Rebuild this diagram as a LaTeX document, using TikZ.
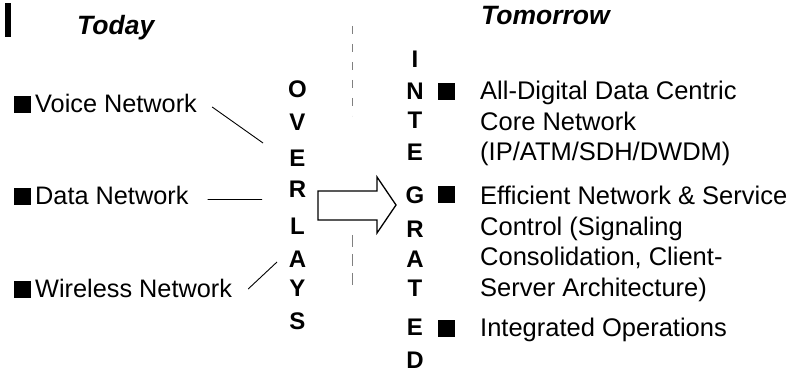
\documentclass[tikz,border=0pt]{standalone}
\usepackage{fontspec}
\setmainfont{Liberation Sans}

\begin{document}
\begin{tikzpicture}[x=1pt,y=-1pt,
  item/.style={anchor=base west,inner sep=0pt,font=\fontsize{25.3}{30}\selectfont},
  ritem/.style={anchor=base west,inner sep=0pt,align=left,font=\fontsize{25.5}{30.5}\selectfont},
  title/.style={anchor=base west,inner sep=0pt,font=\bfseries\itshape\fontsize{26.5}{30}\selectfont},
  lett/.style={anchor=base,inner sep=0pt,font=\bfseries\fontsize{24}{24}\selectfont},
  bul/.style={fill=black,inner sep=0pt,minimum size=17pt},
  link/.style={line width=.9pt}]
\useasboundingbox (0,0) rectangle (796,374);
\fill (5,3) rectangle (11,37);

\node[title] (today) at (77,35) {Today};
\node[title] (tomorrow) at (481,25) {Tomorrow};

% today
\node[bul] (bvoice) at (22,104.5) {};
\node[item] (voice) at (35,113) {Voice Network};
\node[bul] (bdata) at (22,196.5) {};
\node[item] (data) at (35,205) {Data Network};
\node[bul] (bwireless) at (22,289.5) {};
\node[item] (wireless) at (35,298) {Wireless Network};

% overlays
\node[lett] (o1) at (297.5,98) {O};
\node[lett] (o2) at (297.5,131) {V};
\node[lett] (o3) at (297.5,167) {E};
\node[lett] (o4) at (297.5,198) {R};
\node[lett] (o5) at (297.5,235) {L};
\node[lett] (o6) at (297.5,268) {A};
\node[lett] (o7) at (297.5,297) {Y};
\node[lett] (o8) at (297.5,330) {S};

\coordinate (ovV) at (263,143);
\coordinate (ovR) at (262,199.5);
\coordinate (ovA) at (277,262);
\draw[link] ([xshift=15pt,yshift=-3pt]voice.east) -- (ovV);
\draw[link] ([xshift=19pt,yshift=-3.5pt]data.east) -- (ovR);
\draw[link] ([xshift=16pt]wireless.east) -- (ovA);

% divider
\draw[gray,line width=.8pt,dash pattern=on 8pt off 10pt] (352.5,26) -- (352.5,116);
\draw[gray,line width=.8pt,dash pattern=on 12pt off 7pt] (352.5,235) -- (352.5,292);

% arrow
\draw[line width=1.3pt,line join=miter] (318,191) -- (377,191) -- (377,177) -- (396,205)
  -- (377,233) -- (377,220) -- (318,220) -- cycle;

% integrated
\node[lett] (i1) at (415,68) {I};
\node[lett] (i2) at (415,100) {N};
\node[lett] (i3) at (415,129) {T};
\node[lett] (i4) at (415,161) {E};
\node[lett] (i5) at (415,204) {G};
\node[lett] (i6) at (415,238) {R};
\node[lett] (i7) at (415,268) {A};
\node[lett] (i8) at (415,297) {T};
\node[lett] (i9) at (415,336) {E};
\node[lett] (i10) at (415,368) {D};

% tomorrow (base = last line)
\node[bul] (bcore) at (446,92) {};
\node[ritem] (core) at (480,161) {All-Digital Data Centric\\Core Network\\(IP/ATM/SDH/DWDM)};
\node[bul] (bcontrol) at (446,195) {};
\node[ritem] (control) at (480,296.5) {Efficient Network \& Service\\Control (Signaling\\Consolidation, Client-\\Server Architecture)};
\node[bul] (bops) at (446,329) {};
\node[ritem] (ops) at (480,337) {Integrated Operations};
\end{tikzpicture}
\end{document}
